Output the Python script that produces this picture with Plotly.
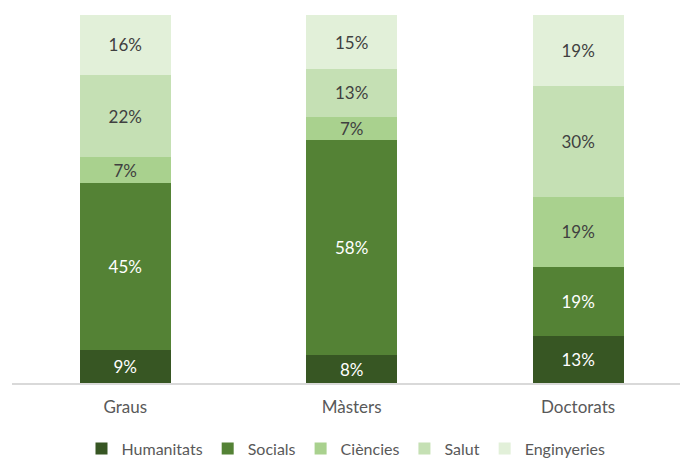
import plotly.graph_objects as go

categories = ["Graus", "Màsters", "Doctorats"]
series_names = ["Humanitats", "Socials", "Ciències", "Salut", "Enginyeries"]
humanitats = [8.9, 7.6, 12.8]
socials = [45.4, 58.3, 18.8]
ciencies = [7.1, 6.5, 18.9]
salut = [22.3, 12.9, 30.2]
enginyeries = [16.3, 14.7, 19.3]
values = [humanitats, socials, ciencies, salut, enginyeries]

colors = ["#375623", "#548235", "#A9D18E", "#C5E0B4", "#E2F0D9"]
text_colors = ["#FFFFFF", "#FFFFFF", "#404040", "#404040", "#404040"]

FONT = "Lato"
FS = 17

fig = go.Figure()
for name, vals, c, tc in zip(series_names, values, colors, text_colors):
    fig.add_trace(go.Bar(
        name=name, x=categories, y=vals,
        marker=dict(color=c, line=dict(width=0)),
        width=0.402,
        texttemplate="%{y:.0f}%",
        textposition="inside",
        insidetextanchor="middle",
        textangle=0,
        textfont=dict(family=FONT, size=FS, color=tc),
        hoverinfo="skip",
    ))

fig.update_layout(
    barmode="stack",
    width=680, height=459,
    margin=dict(l=12, r=0, t=15, b=76, autoexpand=False),
    paper_bgcolor="white", plot_bgcolor="white",
    font=dict(family=FONT, size=FS, color="#595959"),
    uniformtext=dict(minsize=FS, mode="show"),
    showlegend=True,
    legend=dict(
        orientation="h", x=0.5, xanchor="center",
        y=-0.178, yanchor="middle",
        font=dict(family=FONT, size=16, color="#595959"),
        itemwidth=30, traceorder="normal",
    ),
    xaxis=dict(
        range=[-0.5, 2.45], showgrid=False, zeroline=False,
        showline=True, linecolor="#D9D9D9", linewidth=1.5,
        ticks="", ticklabelstandoff=8,
        tickfont=dict(family=FONT, size=FS, color="#595959"),
        fixedrange=True,
    ),
    yaxis=dict(range=[0, 100], visible=False, fixedrange=True),
)

fig.write_html(
    "out.html",
    config={"displayModeBar": False},
    post_script="document.body.style.margin='0';document.body.style.overflow='hidden';",
)
